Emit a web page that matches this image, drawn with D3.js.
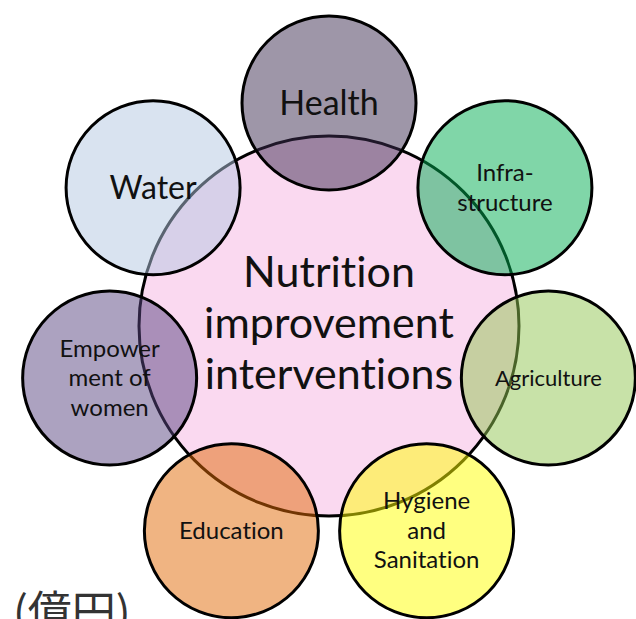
<!DOCTYPE html>
<html>
<head>
<meta charset="utf-8">
<script src="https://cdn.jsdelivr.net/npm/d3@7"></script>
<style>
  body { margin: 0; background: #fff; }
  svg { display: block; font-family: Lato, "Noto Sans", sans-serif; font-variant-ligatures: none; }
</style>
</head>
<body>
<div id="chart"></div>
<script>
// Topics around the centre, clockwise from the top
var topics = ["Health", "Infra-\nstructure", "Agriculture", "Hygiene\nand\nSanitation", "Education", "Empower\nment of\nwomen", "Water"];
// colour each circle shows over white (drawn at half opacity)
var topicColors = ["#9e96a8", "#80d6a8", "#c8e2a8", "#ffff80", "#f0b482", "#aca2c0", "#d9e3f0"];
var labelSizes = [34, 24, 22, 24, 24, 24, 32];

var centreLabel = ["Nutrition", "improvement", "interventions"];
var unitLabel = "(億円)";

var width = 636;
var height = 619;
var cx = 329, cy = 328;
var centreR = 190, ringR = 225, topicR = 87;

var svg = d3.select("#chart")
  .append("svg")
  .attr("width", width)
  .attr("height", height);

// angle for each topic
var angle = d3.scaleLinear()
  .domain([0, topics.length])
  .range([-Math.PI / 2, Math.PI * 3 / 2]);

// real fill so that at 50% opacity over white it shows the given colour
function solid(c) {
  var r = d3.rgb(c);
  return d3.rgb(2 * r.r - 255, 2 * r.g - 255, 2 * r.b - 255).clamp().formatHex();
}

// centre circle
svg.append("circle")
  .attr("cx", cx)
  .attr("cy", cy - 2)
  .attr("r", centreR)
  .attr("fill", "#fad9f0")
  .attr("stroke", "#000")
  .attr("stroke-width", 3);

var nodes = svg.append("g")
  .selectAll("g")
  .data(topics)
  .enter()
  .append("g")
  .attr("transform", function (d, i) {
    var x = cx + ringR * Math.cos(angle(i));
    var y = cy + ringR * Math.sin(angle(i));
    return "translate(" + x + "," + y + ")";
  });

nodes.append("circle")
  .attr("r", topicR)
  .attr("fill", function (d, i) { return solid(topicColors[i]); })
  .attr("fill-opacity", 0.5)
  .attr("stroke", "#000")
  .attr("stroke-width", 3);

// multi line labels
function addLabel(sel, lines, fs, lh) {
  var t = sel.append("text")
    .attr("text-anchor", "middle")
    .attr("fill", "#111")
    .style("font-size", fs + "px");
  lines.forEach(function (line, i) {
    t.append("tspan")
      .attr("x", 0)
      .attr("y", (i - (lines.length - 1) / 2) * lh + fs * 0.34)
      .text(line);
  });
}

nodes.each(function (d, i) {
  addLabel(d3.select(this), d.split("\n"), labelSizes[i], labelSizes[i] * 1.23);
});

var centre = svg.append("g").attr("transform", "translate(" + cx + "," + (cy - 5) + ")");
addLabel(centre, centreLabel, 43, 51);

// leftover unit label cut by the bottom edge
svg.append("text")
  .attr("x", 13)
  .attr("y", 628)
  .attr("fill", "#333")
  .style("font-family", "'Noto Sans CJK JP'")
  .style("font-size", "44px")
  .text(unitLabel);
</script>
</body>
</html>
